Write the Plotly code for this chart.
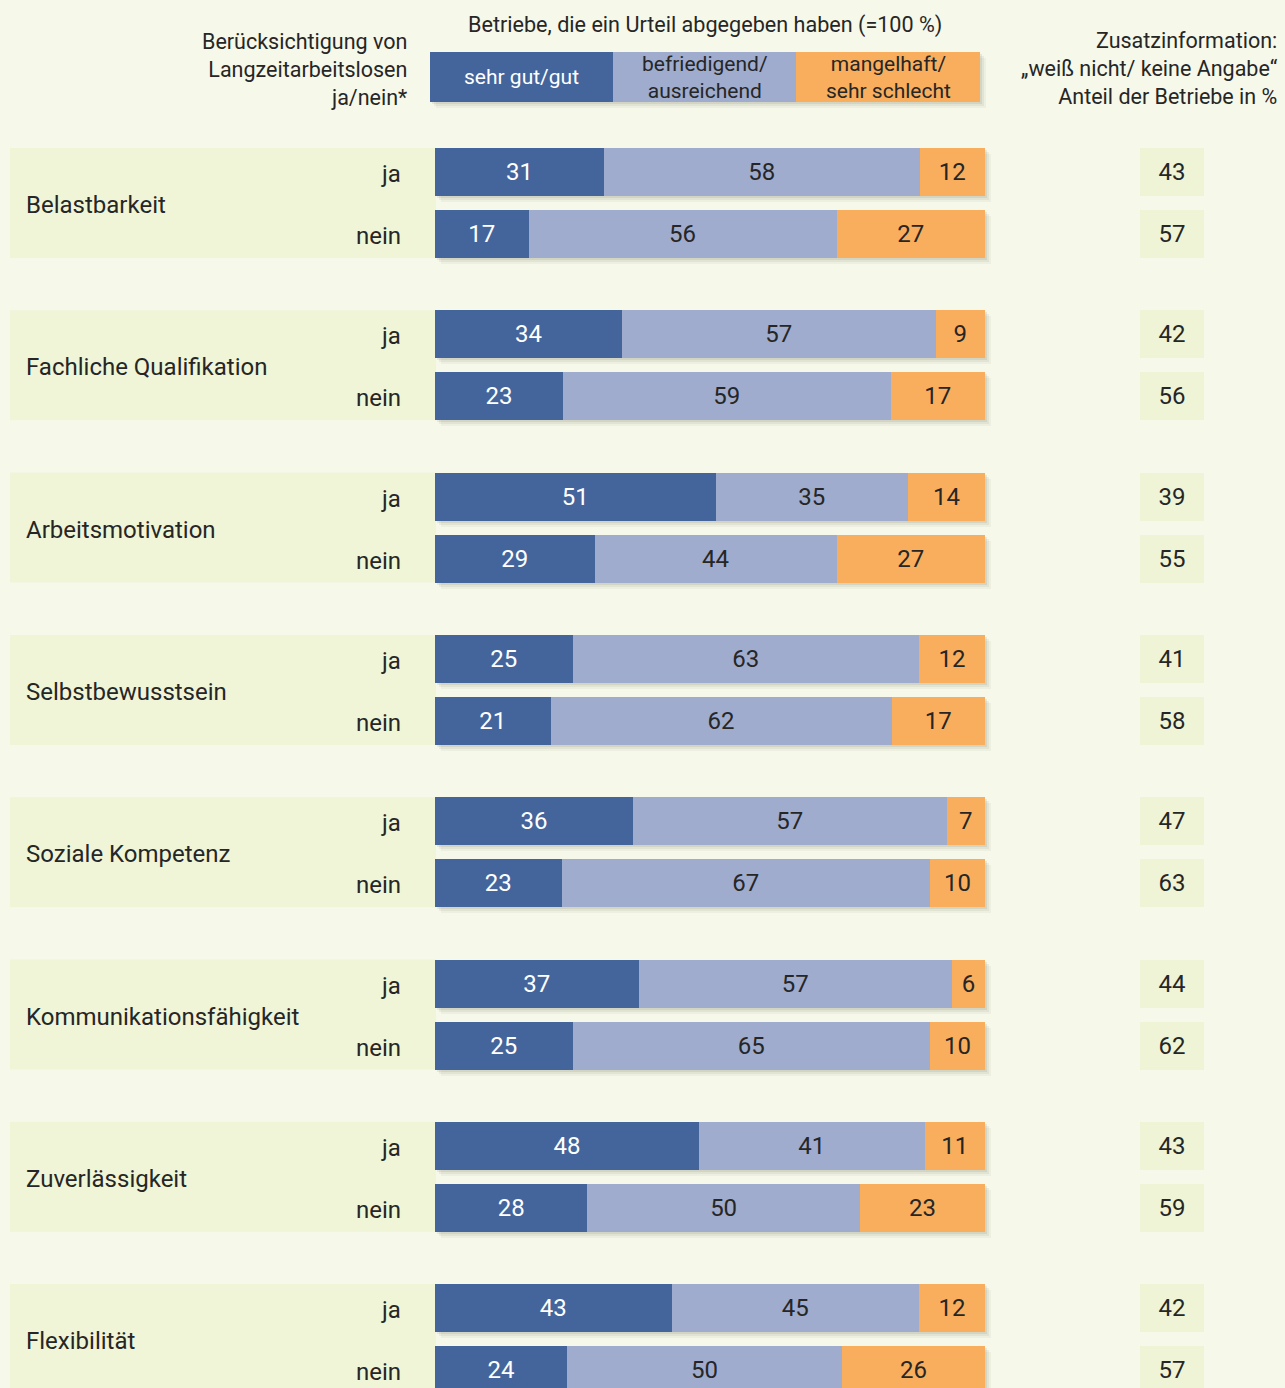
import plotly.graph_objects as go

categories = ["Belastbarkeit", "Fachliche Qualifikation", "Arbeitsmotivation",
              "Selbstbewusstsein", "Soziale Kompetenz", "Kommunikationsfähigkeit",
              "Zuverlässigkeit", "Flexibilität"]
row_labels = ["ja", "nein"]

gut_ja = [31, 34, 51, 25, 36, 37, 48, 43]
gut_nein = [17, 23, 29, 21, 23, 25, 28, 24]
befr_ja = [58, 57, 35, 63, 57, 57, 41, 45]
befr_nein = [56, 59, 44, 62, 67, 65, 50, 50]
mang_ja = [12, 9, 14, 12, 7, 6, 11, 12]
mang_nein = [27, 17, 27, 17, 10, 10, 23, 26]
weiss_ja = [43, 42, 39, 41, 47, 44, 43, 42]
weiss_nein = [57, 56, 55, 58, 63, 62, 59, 57]

legend_labels = ["sehr gut/gut", "befriedigend/<br>ausreichend", "mangelhaft/<br>sehr schlecht"]

W, H = 1285, 1388
BG = "#f6f8ea"
BAND = "#f0f5d7"
C_DARK = "#44659c"
C_LIGHT = "#9facce"
C_ORANGE = "#f9ae5d"
TXT = "#262626"
FONT = "Roboto, Noto Sans, sans-serif"
NARROW = "Roboto, sans-serif"

PERIOD = 162.3
Y0_JA = 172
Y0_NEIN = 234
BARW = 48

ys, gut, befr, mang, weiss = [], [], [], [], []
for i in range(len(categories)):
    ys += [Y0_JA + PERIOD * i, Y0_NEIN + PERIOD * i]
    gut += [gut_ja[i], gut_nein[i]]
    befr += [befr_ja[i], befr_nein[i]]
    mang += [mang_ja[i], mang_nein[i]]
    weiss += [weiss_ja[i], weiss_nein[i]]

fig = go.Figure()

def axref(n, kind):
    return kind if n == 1 else f"{kind}{n}"

layout_axes = {}
# shadows first (drawn underneath)
shadow_layers = [(6, 6, 0.05), (4, 4, 0.07), (2, 2, 0.09)]
totals = [a + b + c for a, b, c in zip(gut, befr, mang)]
for k, (dx, dy, a) in enumerate(shadow_layers):
    n = k + 1
    fig.add_trace(go.Bar(
        x=totals, y=ys, orientation="h", width=BARW,
        marker=dict(color=f"rgba(70,70,40,{a})", line=dict(width=0)),
        xaxis=axref(n, "x"), yaxis=axref(n, "y"), hoverinfo="skip", showlegend=False))
    xa = dict(domain=[(435 + dx) / W, (985 + dx) / W], range=[0, 100], visible=False,
              anchor=axref(n, "y"))
    ya = dict(domain=[0, 1], range=[H - dy, -dy], visible=False, anchor=axref(n, "x"))
    if n > 1:
        ya["overlaying"] = "y"
    layout_axes[axref(n, "xaxis")] = xa
    layout_axes[axref(n, "yaxis")] = ya

# main bars on axis 4
MAIN = 4
for vals, col, tcol in [(gut, C_DARK, "white"), (befr, C_LIGHT, TXT), (mang, C_ORANGE, TXT)]:
    fig.add_trace(go.Bar(
        x=vals, y=ys, orientation="h", width=BARW,
        marker=dict(color=col, line=dict(width=0)),
        text=[str(v) for v in vals], textposition="inside", insidetextanchor="middle",
        constraintext="none",
        textfont=dict(color=tcol, size=24, family=FONT),
        xaxis=f"x{MAIN}", yaxis=f"y{MAIN}", showlegend=False, hoverinfo="skip"))
layout_axes[f"xaxis{MAIN}"] = dict(domain=[435 / W, 985 / W], range=[0, 100], visible=False,
                                   anchor=f"y{MAIN}")
layout_axes[f"yaxis{MAIN}"] = dict(domain=[0, 1], range=[H, 0], visible=False, anchor=f"x{MAIN}",
                                   overlaying="y")

# right info boxes on axis 5
fig.add_trace(go.Bar(
    x=[1] * len(weiss), y=ys, orientation="h", width=BARW,
    marker=dict(color="#eff4d7", line=dict(width=0)),
    text=[str(v) for v in weiss], textposition="inside", insidetextanchor="middle",
    constraintext="none", textfont=dict(color=TXT, size=24, family=FONT),
    xaxis="x5", yaxis="y5", showlegend=False, hoverinfo="skip"))
layout_axes["xaxis5"] = dict(domain=[1140 / W, 1204 / W], range=[0, 100], visible=False, anchor="y5")
layout_axes["yaxis5"] = dict(domain=[0, 1], range=[H, 0], visible=False, anchor="x5", overlaying="y")

fig.update_layout(
    width=W, height=H, margin=dict(l=0, r=0, t=0, b=0),
    paper_bgcolor=BG, plot_bgcolor="rgba(0,0,0,0)",
    barmode="stack", barnorm="percent",
    font=dict(family=FONT, color=TXT),
    **layout_axes,
)

YR = f"y{MAIN}"
shapes = []
annotations = []
for i, cat in enumerate(categories):
    top = 148 + PERIOD * i
    shapes.append(dict(type="rect", xref="paper", yref=YR, x0=10 / W, x1=436 / W,
                       y0=top, y1=top + 110, fillcolor=BAND, line=dict(width=0), layer="below"))
    annotations.append(dict(xref="paper", yref=YR, x=24 / W, y=top + 57, text=cat,
                            showarrow=False, xanchor="left", yanchor="middle",
                            font=dict(size=24, family=FONT, color=TXT)))
    for j, lab in enumerate(row_labels):
        yy = (Y0_JA if j == 0 else Y0_NEIN) + PERIOD * i + 2
        annotations.append(dict(xref="paper", yref=YR, x=403 / W, y=yy, text=lab,
                                showarrow=False, xanchor="right", yanchor="middle",
                                font=dict(size=24, family=FONT, color=TXT)))

# legend header boxes
leg_cols = [C_DARK, C_LIGHT, C_ORANGE]
leg_tc = ["white", TXT, TXT]
edges = [430, 613, 796, 980]
for dx, dy, a in shadow_layers:
    shapes.append(dict(type="rect", xref="paper", yref=YR, x0=(430 + dx) / W, x1=(980 + dx) / W,
                       y0=52 + dy, y1=102 + dy, fillcolor=f"rgba(70,70,40,{a})", line=dict(width=0)))
for k in range(3):
    shapes.append(dict(type="rect", xref="paper", yref=YR, x0=edges[k] / W, x1=edges[k + 1] / W,
                       y0=52, y1=102, fillcolor=leg_cols[k], line=dict(width=0)))
    annotations.append(dict(xref="paper", yref=YR, x=(edges[k] + edges[k + 1]) / 2 / W, y=77,
                            text=legend_labels[k], showarrow=False, xanchor="center", yanchor="middle",
                            font=dict(size=21, family=NARROW, color=leg_tc[k])))

annotations.append(dict(xref="paper", yref=YR, x=705 / W, y=25,
                        text="Betriebe, die ein Urteil abgegeben haben (=100 %)", showarrow=False,
                        xanchor="center", yanchor="middle", font=dict(size=21.6, family=NARROW, color=TXT)))
annotations.append(dict(xref="paper", yref=YR, x=409 / W, y=69,
                        text="Berücksichtigung von<br>Langzeitarbeitslosen<br>ja/nein*", showarrow=False,
                        align="right", xanchor="right", yanchor="middle",
                        font=dict(size=21.5, family=NARROW, color=TXT)))
annotations.append(dict(xref="paper", yref=YR, x=1280 / W, y=68,
                        text="Zusatzinformation:<br>„weiß nicht/ keine Angabe“<br>Anteil der Betriebe in %",
                        showarrow=False, align="right", xanchor="right", yanchor="middle",
                        font=dict(size=21.5, family=NARROW, color=TXT)))

fig.update_layout(shapes=shapes, annotations=annotations)
fig.write_html("out.html", config={"displayModeBar": False},
               post_script="document.body.style.margin='0';")
